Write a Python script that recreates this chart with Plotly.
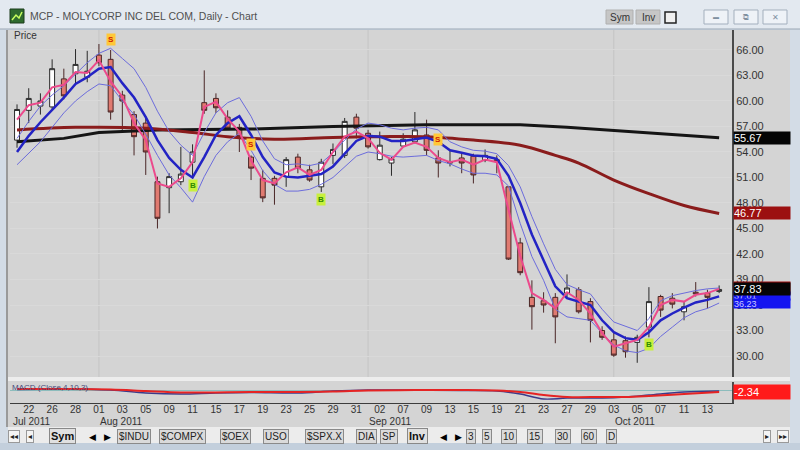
import plotly.graph_objects as go

# ---------------- data ----------------
dates = ["2011-07-21", "2011-07-22", "2011-07-25", "2011-07-26", "2011-07-27", "2011-07-28", "2011-07-29",
         "2011-08-01", "2011-08-02", "2011-08-03", "2011-08-04", "2011-08-05",
         "2011-08-08", "2011-08-09", "2011-08-10", "2011-08-11", "2011-08-12",
         "2011-08-15", "2011-08-16", "2011-08-17", "2011-08-18", "2011-08-19",
         "2011-08-22", "2011-08-23", "2011-08-24", "2011-08-25", "2011-08-26",
         "2011-08-29", "2011-08-30", "2011-08-31", "2011-09-01", "2011-09-02",
         "2011-09-06", "2011-09-07", "2011-09-08", "2011-09-09",
         "2011-09-12", "2011-09-13", "2011-09-14", "2011-09-15", "2011-09-16",
         "2011-09-19", "2011-09-20", "2011-09-21", "2011-09-22", "2011-09-23",
         "2011-09-26", "2011-09-27", "2011-09-28", "2011-09-29", "2011-09-30",
         "2011-10-03", "2011-10-04", "2011-10-05", "2011-10-06", "2011-10-07",
         "2011-10-10", "2011-10-11", "2011-10-12", "2011-10-13", "2011-10-14"]

open_ = [55.4, 58.9, 59.4, 59.3, 62.6, 63.2, 62.8, 65.4, 64.9, 60.7,
         58.4, 57.4, 50.5, 49.8, 50.5, 52.8, 59.8, 60.3, 58.1, 56.9,
         53.4, 50.9, 50.9, 51.1, 53.4, 51.9, 49.9, 53.6, 53.6, 58.1,
         56.2, 53.1, 52.7, 54.7, 55.2, 56.0, 53.3, 52.7, 53.3, 53.5,
         53.0, 53.1, 49.9, 43.3, 36.9, 36.5, 36.9, 37.4, 37.8, 36.4,
         33.0, 31.9, 31.8, 31.6, 33.4, 37.0, 36.8, 35.2, 37.5, 37.4, 37.6]
high = [59.6, 61.5, 60.9, 64.9, 63.8, 66.1, 65.9, 66.7, 66.0, 61.2,
        58.8, 58.2, 51.1, 51.5, 54.6, 54.9, 63.6, 60.9, 58.9, 57.3,
        53.6, 51.9, 51.2, 53.4, 53.8, 52.5, 53.2, 55.0, 58.0, 58.5,
        56.6, 56.4, 53.4, 56.2, 58.7, 57.8, 54.2, 54.3, 54.0, 53.8,
        54.3, 53.6, 50.0, 43.9, 38.9, 37.5, 37.4, 39.6, 38.1, 36.8,
        33.5, 32.7, 32.3, 32.5, 38.1, 37.2, 37.4, 36.4, 38.7, 37.8, 38.3]
low = [54.5, 57.4, 58.4, 59.0, 60.2, 62.1, 62.2, 64.1, 57.8, 56.6,
       53.6, 51.3, 45.0, 46.8, 50.1, 50.9, 58.5, 58.6, 56.6, 54.0,
       50.7, 48.1, 47.8, 49.9, 51.5, 50.5, 49.3, 52.6, 53.3, 55.6,
       54.4, 53.0, 51.2, 54.6, 55.0, 53.6, 51.0, 52.3, 51.5, 50.3,
       52.8, 51.5, 41.3, 39.5, 33.1, 35.1, 31.5, 36.9, 35.0, 31.6,
       31.9, 29.9, 29.8, 29.2, 32.2, 34.6, 35.6, 34.2, 37.0, 35.6, 37.4]
close = [59.0, 60.3, 60.0, 63.8, 60.6, 64.3, 63.5, 64.5, 58.7, 60.0,
         55.8, 54.0, 46.2, 51.1, 51.4, 54.0, 58.9, 59.2, 56.8, 55.8,
         52.1, 48.6, 50.1, 53.1, 52.1, 50.7, 52.8, 54.3, 57.6, 56.8,
         54.6, 54.8, 53.2, 55.5, 56.6, 54.2, 52.7, 52.8, 52.7, 51.3,
         53.6, 52.9, 41.4, 39.8, 35.8, 36.0, 34.6, 38.0, 35.2, 34.2,
         32.2, 30.1, 30.5, 32.2, 36.4, 35.4, 36.1, 35.8, 37.3, 36.9, 37.83]

fast_line = [57.8, 59.5, 59.8, 61.6, 61.9, 63.4, 63.3, 64.8, 62.3, 60.5,
             57.4, 55.4, 50.3, 49.9, 50.9, 52.8, 59.3, 59.9, 57.9, 56.4,
             53.0, 50.7, 50.3, 51.6, 52.2, 51.3, 51.9, 54.0, 55.8, 56.4,
             55.6, 53.9, 53.1, 54.6, 55.1, 54.6, 53.3, 52.8, 53.1, 52.5,
             53.1, 52.8, 47.2, 41.8, 37.4, 36.6, 35.6, 37.5, 36.6, 35.0,
             32.7, 31.1, 31.5, 31.9, 33.4, 36.0, 36.6, 36.4, 37.2, 37.4, 37.9]

band_mid = [54.0, 55.9, 57.5, 58.9, 60.4, 62.0, 62.8, 63.8, 64.0, 62.1,
            60.4, 58.1, 55.4, 53.3, 51.9, 51.0, 53.4, 56.0, 57.4, 58.2,
            56.0, 53.4, 51.6, 51.1, 51.0, 51.2, 51.4, 52.3, 53.8, 55.3,
            55.9, 55.8, 55.3, 55.3, 55.5, 55.7, 55.2, 54.2, 53.9, 53.6,
            53.5, 53.2, 51.2, 48.0, 44.3, 41.2, 38.2, 36.8, 36.4, 36.0,
            34.2, 32.8, 32.1, 31.9, 32.8, 34.2, 35.0, 35.7, 36.3, 36.6, 37.01]
band_up = [55.6, 57.6, 59.4, 60.7, 61.8, 63.2, 64.5, 65.6, 66.2, 65.0,
           63.8, 61.6, 58.8, 56.4, 54.8, 53.6, 56.3, 58.6, 59.8, 60.4,
           58.2, 55.3, 53.2, 52.5, 52.6, 52.4, 52.7, 53.9, 55.4, 56.7,
           57.4, 57.2, 56.8, 56.6, 56.8, 56.9, 56.6, 55.2, 54.6, 54.2,
           54.1, 53.8, 52.4, 49.9, 46.4, 43.2, 40.2, 38.4, 37.8, 37.3,
           35.5, 34.0, 33.5, 33.0, 34.4, 36.5, 37.1, 37.4, 37.7, 37.9, 38.0]
band_low = [52.5, 53.8, 55.2, 56.9, 58.6, 60.0, 61.1, 62.0, 61.8, 60.0,
            58.4, 56.1, 53.6, 51.3, 49.8, 48.1, 51.1, 53.6, 55.2, 56.2,
            54.2, 51.8, 50.2, 49.4, 49.4, 49.6, 50.2, 51.0, 52.2, 53.5,
            54.0, 53.8, 53.5, 53.4, 53.5, 53.6, 53.0, 52.6, 52.0, 51.5,
            51.5, 51.3, 50.0, 45.6, 41.7, 38.9, 35.5, 34.6, 34.4, 34.2,
            32.7, 31.3, 30.6, 30.4, 30.9, 32.3, 33.4, 34.5, 35.2, 35.6, 36.23]

long_ma_dates = ["2011-07-21", "2011-07-27", "2011-08-01", "2011-08-08", "2011-08-18", "2011-08-29",
                 "2011-09-09", "2011-09-21", "2011-09-27", "2011-10-03", "2011-10-07", "2011-10-14"]
long_ma = [55.2, 55.6, 56.3, 56.6, 56.7, 57.0, 57.2, 57.2, 56.9, 56.5, 56.1, 55.67]

mid_ma_dates = ["2011-07-21", "2011-07-28", "2011-08-05", "2011-08-11", "2011-08-16", "2011-08-22",
                "2011-08-29", "2011-09-02", "2011-09-09", "2011-09-15", "2011-09-21", "2011-09-26",
                "2011-09-28", "2011-10-03", "2011-10-06", "2011-10-11", "2011-10-14"]
mid_ma = [56.6, 56.9, 56.8, 56.3, 55.8, 55.5, 55.7, 55.8, 55.8, 55.4, 54.8, 53.6,
          52.7, 50.7, 49.1, 47.7, 46.77]

macd_dates = ["2011-07-21", "2011-07-27", "2011-08-02", "2011-08-05", "2011-08-10", "2011-08-15",
              "2011-08-18", "2011-08-24", "2011-08-29", "2011-09-01", "2011-09-08", "2011-09-14",
              "2011-09-19", "2011-09-21", "2011-09-23", "2011-09-27", "2011-09-30", "2011-10-04",
              "2011-10-06", "2011-10-11", "2011-10-14"]
macd_line = [0.6, 1.2, 0.0, -3.5, -4.7, -3.5, -2.9, -3.5, -1.2, 0.0, 0.0, -0.6,
             -1.2, -4.7, -10.5, -9.4, -9.4, -8.2, -5.9, -2.3, -1.2]
macd_signal = [1.2, 1.2, 0.6, -1.2, -2.9, -2.9, -2.3, -2.3, -1.8, -0.6, 0.0, 0.0,
               -0.6, -2.3, -5.9, -8.2, -8.2, -8.2, -7.0, -4.7, -2.34]

sell_dates = ["2011-08-02", "2011-08-18", "2011-09-12"]
buy_dates = ["2011-08-11", "2011-08-26", "2011-10-06"]

tick_dates = ["2011-07-22", "2011-07-26", "2011-07-28", "2011-08-01", "2011-08-03", "2011-08-05",
              "2011-08-09", "2011-08-11", "2011-08-15", "2011-08-17", "2011-08-19", "2011-08-23",
              "2011-08-25", "2011-08-29", "2011-08-31", "2011-09-02", "2011-09-07", "2011-09-09",
              "2011-09-13", "2011-09-15", "2011-09-19", "2011-09-21", "2011-09-23", "2011-09-27",
              "2011-09-29", "2011-10-03", "2011-10-05", "2011-10-07", "2011-10-11", "2011-10-13"]
month_starts = ["2011-07-21", "2011-08-01", "2011-09-01", "2011-10-03"]
month_names = ["Jul 2011", "Aug 2011", "Sep 2011", "Oct 2011"]
price_ticks = [30, 33, 36, 39, 42, 45, 48, 51, 54, 57, 60, 63, 66]

# ---------------- helpers ----------------
W, H = 800, 450
FONT = "Liberation Sans, Arial, sans-serif"
pos = {d: i for i, d in enumerate(dates)}
X = list(range(len(dates)))


def px(x):
    return x / W


def py(y):
    return 1 - y / H


shapes = []
annos = []


def rect(x0, y0, x1, y1, fill, line=None, lw=1, layer="below"):
    shapes.append(dict(type="rect", xref="paper", yref="paper",
                       x0=px(x0), x1=px(x1), y0=py(y1), y1=py(y0),
                       fillcolor=fill, line=dict(color=line or fill, width=lw if line else 0),
                       layer=layer))


def text(x, y, t, size=10, color="#222", anchor="center", bg=None, border=None, bold=False, **kw):
    if bold:
        t = "<b>" + t + "</b>"
    d = dict(xref="paper", yref="paper", x=px(x), y=py(y), text=t, showarrow=False,
             xanchor=anchor, yanchor="middle", font=dict(size=size, color=color, family=FONT))
    if bg:
        d["bgcolor"] = bg
    if border:
        d["bordercolor"] = border
        d["borderwidth"] = 1
        d["borderpad"] = 1
    d.update(kw)
    annos.append(d)


# ---------------- window frame ----------------
rect(0, 0, 800, 450, "#d3dce6")
rect(0, 0, 800, 29, "#e3e9f0")
shapes.append(dict(type="line", xref="paper", yref="paper", x0=0, x1=1, y0=py(29), y1=py(29),
                   line=dict(color="#9aa6b4", width=1), layer="below"))
rect(8, 30, 790, 427, "#d4d4d4")
rect(8, 377, 790, 381, "#ededed")
rect(8, 427, 790, 443, "#ececec")
rect(0, 443, 800, 450, "#c3cfdc")
rect(6, 30, 8, 427, "#9a9a9a")

# title bar
rect(10, 9, 24, 23, "#2f6b2f", "#1d3d1d")
shapes.append(dict(type="path", xref="paper", yref="paper", layer="above",
                   path=f"M {px(12)} {py(20)} L {px(16)} {py(15)} L {px(19)} {py(18)} L {px(22)} {py(12)}",
                   line=dict(color="#c8ff60", width=1.5)))
text(28, 16, "MCP - MOLYCORP INC DEL COM, Daily - Chart", size=10.5, color="#505050", anchor="left")
rect(606, 10, 633, 24, "#c6c6c6", "#b0b0b0")
text(619.5, 17, "Sym", size=10, color="#333")
rect(636, 10, 660, 24, "#c6c6c6", "#b0b0b0")
text(648, 17, "Inv", size=10, color="#333")
rect(665, 12, 676, 23, "#f0f0f0", "#222", 1.5)
for x0 in (704, 734, 763):
    rect(x0, 10, x0 + 24, 24, "#eef2f7", "#a3afbd")
text(716, 17, "▬", size=6, color="#8090a0")
text(746, 17, "⧉", size=8, color="#8090a0")
text(775, 17, "✕", size=8, color="#8090a0")

# panel labels
text(12, 36, "Price", size=10, color="#333", anchor="left")
text(10, 387, "MACD (Close,4,10,3)", size=8, color="#4a4a7a", anchor="left")

# bottom toolbar
text(14, 436, "◂◂", size=8, color="#222", bg="#f4f4f4", border="#999")
text(30, 436, "◂", size=8, color="#222", bg="#f4f4f4", border="#999")
text(62, 436, "Sym", size=11, color="#111", bg="#e0e0e0", border="#888", bold=True)
text(92, 437, "◀", size=9, color="#000")
text(107, 437, "▶", size=9, color="#000")
for label, cx in [("$INDU", 134), ("$COMPX", 182), ("$OEX", 235), ("USO", 276),
                  ("$SPX.X", 324), ("DIA", 366), ("SP", 389)]:
    text(cx, 436, label, size=10, color="#222", bg="#dadada", border="#8a8a8a")
text(417, 436, "Inv", size=11, color="#111", bg="#e0e0e0", border="#888", bold=True)
text(443, 437, "◀", size=9, color="#000")
text(458, 437, "▶", size=9, color="#000")
for label, cx in [("3", 471), ("5", 487), ("10", 509), ("15", 535), ("30", 563), ("60", 589), ("D", 611)]:
    text(cx, 436, label, size=10, color="#222", bg="#dadada", border="#8a8a8a")
text(767, 436, "▸", size=8, color="#222", bg="#f4f4f4", border="#999")
text(783, 436, "▸▸", size=8, color="#222", bg="#f4f4f4", border="#999")

# month separators
for d in month_starts[1:]:
    shapes.append(dict(type="line", xref="x", yref="y domain", x0=pos[d], x1=pos[d], y0=0, y1=1,
                       line=dict(color="#c4c4c4", width=1), layer="below"))

# month labels under the day numbers
for i, (d, name) in enumerate(zip(month_starts, month_names)):
    annos.append(dict(xref="x", yref="paper", x=pos[d], y=py(421), text=name, showarrow=False,
                      xanchor="left", yanchor="middle", xshift=-6 if i == 0 else -1,
                      font=dict(size=10, color="#333", family=FONT)))

# ---------------- traces ----------------
fig = go.Figure()
fig.add_trace(go.Scatter(x=[pos[d] for d in long_ma_dates], y=long_ma, mode="lines",
                         line=dict(color="#151515", width=3), hoverinfo="skip"))
fig.add_trace(go.Scatter(x=[pos[d] for d in mid_ma_dates], y=mid_ma, mode="lines",
                         line=dict(color="#8a1c1c", width=3, shape="spline"), hoverinfo="skip"))
fig.add_trace(go.Scatter(x=X, y=band_up, mode="lines", line=dict(color="#6c6cdc", width=1), hoverinfo="skip"))
fig.add_trace(go.Scatter(x=X, y=band_low, mode="lines", line=dict(color="#6c6cdc", width=1), hoverinfo="skip"))
fig.add_trace(go.Scatter(x=X, y=band_mid, mode="lines", line=dict(color="#2323c4", width=2.5), hoverinfo="skip"))
fig.add_trace(go.Scatter(x=X, y=fast_line, mode="lines", line=dict(color="#ec4a8c", width=2), hoverinfo="skip"))
fig.add_trace(go.Candlestick(x=X, open=open_, high=high, low=low, close=close,
                             increasing=dict(fillcolor="#ffffff", line=dict(color="#2a2a2a", width=1)),
                             decreasing=dict(fillcolor="#e07a70", line=dict(color="#4a2626", width=1)),
                             whiskerwidth=0, hoverinfo="skip"))

# MACD panel
fig.add_trace(go.Scatter(x=[pos[d] for d in macd_dates], y=macd_line, mode="lines", yaxis="y2",
                         line=dict(color="#3a3a8a", width=1.5, shape="spline"), hoverinfo="skip"))
fig.add_trace(go.Scatter(x=[pos[d] for d in macd_dates], y=macd_signal, mode="lines", yaxis="y2",
                         line=dict(color="#e52424", width=2, shape="spline"), hoverinfo="skip"))

# signal markers
for d in sell_dates:
    i = pos[d]
    annos.append(dict(xref="x", yref="y", x=i, y=high[i], text="<b>S</b>", showarrow=False,
                      yanchor="bottom", yshift=4, bgcolor="#ffc838", borderpad=1,
                      font=dict(size=8, color="#d02000", family=FONT)))
for d in buy_dates:
    i = pos[d]
    annos.append(dict(xref="x", yref="y", x=i, y=low[i], text="<b>B</b>", showarrow=False,
                      yanchor="top", yshift=-1, bgcolor="#c8f03c", borderpad=1,
                      font=dict(size=8, color="#2e8a00", family=FONT)))


# right-side value labels
def value_label(v, t, bg, yref="y", color="#ffffff", h=12, size=11):
    annos.append(dict(xref="paper", yref=yref, x=px(733), y=v, text=t, showarrow=False,
                      xanchor="left", yanchor="middle", width=56, height=h, align="left",
                      bgcolor=bg, borderpad=0, font=dict(size=size, color=color, family=FONT)))


value_label(long_ma[-1], f"{long_ma[-1]:.2f}", "#050505")
value_label(mid_ma[-1], f"{mid_ma[-1]:.2f}", "#9c1010")
value_label(band_up[-1], f"{band_up[-1]:.2f}", "#9c1010")
value_label(band_mid[-1], f"{band_mid[-1]:.2f}", "#1414f0", color="#c8c8ff", h=8, size=9)
value_label(band_low[-1], f"{band_low[-1]:.2f}", "#1414f0", color="#c8c8ff", h=9, size=9)
value_label(close[-1], f"{close[-1]:.2f}", "#050505")
value_label(macd_signal[-1], f"{macd_signal[-1]:.2f}", "#ff1a1a", yref="y2", h=14)

# ---------------- layout ----------------
fig.update_layout(
    width=W, height=H, margin=dict(l=0, r=0, t=0, b=0),
    paper_bgcolor="#d3dce6", plot_bgcolor="#d4d4d4",
    showlegend=False, boxgap=0.4,
    font=dict(family=FONT, size=11, color="#333"),
    xaxis=dict(domain=[px(10), px(732)], range=[-0.6, 61.1], anchor="y2",
               tickvals=[pos[d] for d in tick_dates], ticktext=[d[8:] for d in tick_dates],
               ticks="", showgrid=False, zeroline=False, showline=True, linecolor="#3c3c3c",
               linewidth=1, tickfont=dict(size=10, color="#333"), ticklabelstandoff=-3,
               rangeslider=dict(visible=False)),
    yaxis=dict(domain=[py(377), py(30)], range=[27.53, 68.35], side="right", anchor="x",
               tickvals=price_ticks, ticktext=[f"{v:.2f}" for v in price_ticks],
               ticks="", showgrid=True, gridcolor="#d9d9d9", zeroline=False,
               showline=True, linecolor="#4a4a4a", linewidth=2,
               tickfont=dict(size=11, color="#333")),
    yaxis2=dict(domain=[py(403), py(382)], range=[-15.2, 9.4], side="right", anchor="x",
                showticklabels=False, ticks="", showgrid=False, zeroline=True,
                zerolinecolor="#8cbcbc", zerolinewidth=1,
                showline=True, linecolor="#4a4a4a", linewidth=2),
    shapes=shapes, annotations=annos,
)

fig.write_html("out.html", config={"displayModeBar": False},
               post_script="document.body.style.margin='0';document.body.style.overflow='hidden';")
